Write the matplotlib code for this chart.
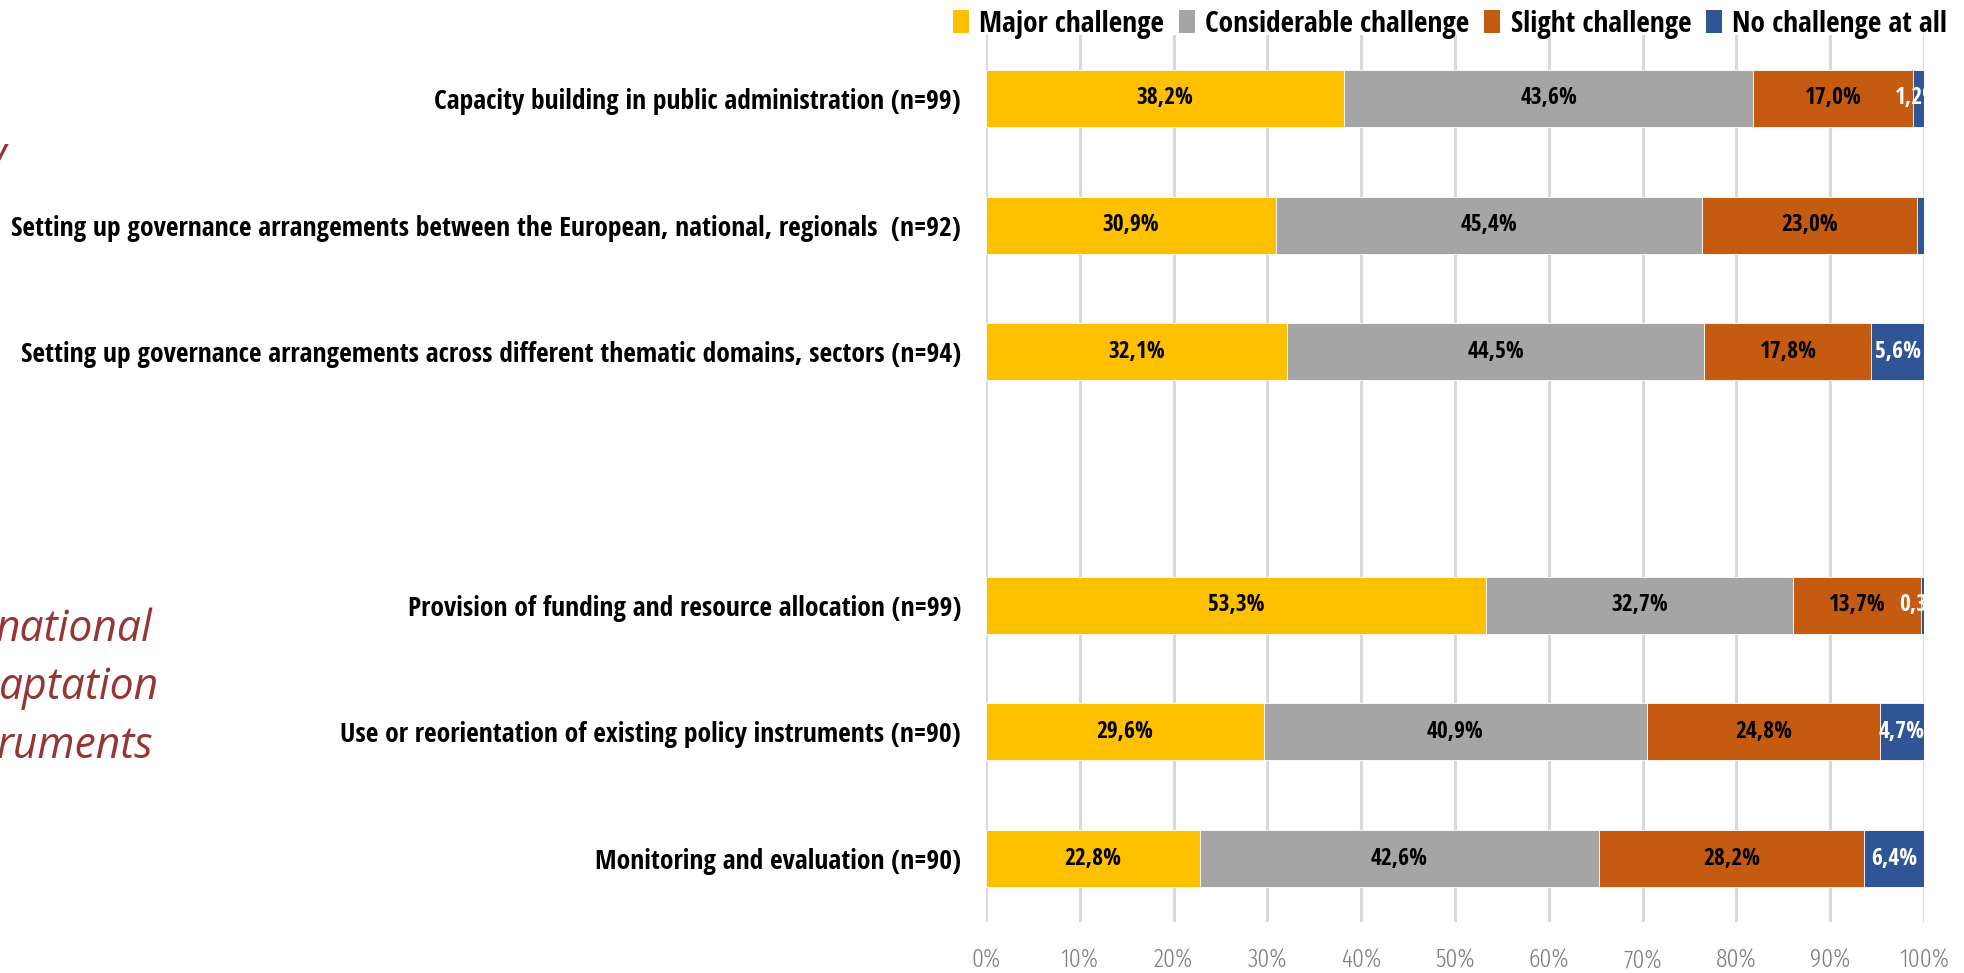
import matplotlib
matplotlib.use("Agg")
import matplotlib.pyplot as plt
from matplotlib.patches import Patch
import numpy as np

categories = [
    "Capacity building in public administration (n=99)",
    "Setting up governance arrangements between the European, national, regionals  (n=92)",
    "Setting up governance arrangements across different thematic domains, sectors (n=94)",
    "",
    "Provision of funding and resource allocation (n=99)",
    "Use or reorientation of existing policy instruments (n=90)",
    "Monitoring and evaluation (n=90)",
]
series = ["Major challenge", "Considerable challenge", "Slight challenge", "No challenge at all"]
major = [38.2, 30.9, 32.1, 0, 53.3, 29.6, 22.8]
considerable = [43.6, 45.4, 44.5, 0, 32.7, 40.9, 42.6]
slight = [17.0, 23.0, 17.8, 0, 13.7, 24.8, 28.2]
no_challenge = [1.2, 0.7, 5.6, 0, 0.3, 4.7, 6.4]
show_label = [True, False, True, False, True, True, True]  # blue series labels
colors = ["#FFC000", "#A5A5A5", "#C55A11", "#2F5597"]
text_colors = ["black", "black", "black", "white"]

cond = ["Open Sans Condensed", "Roboto Condensed", "DejaVu Sans"]
thin = ["Fira Sans Extra Condensed", "Roboto Condensed", "DejaVu Sans"]
red = "#943634"

fig = plt.figure(figsize=(19.64, 9.73), dpi=100)
renderer = fig.canvas.get_renderer()


def fit_size(text, target_px, **kw):
    # font size that makes `text` about target_px wide
    t = fig.text(0, 0, text, fontsize=20, **kw)
    w = t.get_window_extent(renderer).width
    t.remove()
    return 20 * target_px / w


lab_size = fit_size(categories[1], 948, family=cond, fontweight="bold")
bar_size = fit_size("38,2%", 57, family=cond, fontweight="bold")
tick_size = fit_size("100%", 50, family=thin, fontweight=300)
leg_size = fit_size(series[1], 264, family=cond, fontweight="bold")

ax = fig.add_axes([0.5020, 0.0524, 0.4776, 0.9116])

y = np.arange(len(categories))
left = np.zeros(len(categories))
for k, vals in enumerate([major, considerable, slight, no_challenge]):
    vals = np.array(vals)
    nz = vals > 0
    ax.barh(y[nz], vals[nz], left=left[nz], height=0.45, color=colors[k],
            edgecolor="white", linewidth=0.6, zorder=3)
    for i, v in enumerate(vals):
        if v == 0 or (k == 3 and not show_label[i]):
            continue
        t = ax.text(left[i] + v / 2, y[i], f"{v:.1f}%".replace(".", ","),
                    ha="center", va="center", color=text_colors[k],
                    fontsize=bar_size, fontweight="bold", family=cond, zorder=4)
        t.set_clip_on(True)
    left += vals

ax.set_xlim(0, 100)
ax.set_ylim(len(categories) - 0.5, -0.5)
ax.set_xticks(np.arange(0, 101, 10))
ax.set_xticklabels([f"{v}%" for v in range(0, 101, 10)], family=thin,
                   fontsize=tick_size, fontweight=300, color="#7F7F7F")
ax.tick_params(axis="x", length=0, pad=19)
ax.set_yticks(y)
ax.set_yticklabels(categories, family=cond, fontsize=lab_size, fontweight="bold")
ax.tick_params(axis="y", length=0, pad=18)
ax.grid(axis="x", color="#D9D9D9", linewidth=2.2, zorder=0)
for s in ax.spines.values():
    s.set_visible(False)

handles = [Patch(facecolor=c, edgecolor="none") for c in colors]
fig.legend(handles, series, loc="upper right", bbox_to_anchor=(1.005, 1.017),
           ncol=4, frameon=False, handlelength=0.55, handleheight=0.8,
           handletextpad=0.35, columnspacing=0.5,
           prop={"family": cond, "size": leg_size, "weight": "bold"})

# cut-off slide text on the left
side = ["Open Sans", "DejaVu Sans"]
side_size = fit_size("aptation", 160, family=side, style="italic")
fig.text(6 / 1964, 1 - 168 / 973, "y", color=red, fontsize=side_size,
         style="italic", family=side, ha="right", va="baseline")
for word, xr, yb in [("national", 153, 641), ("aptation", 159, 699), ("ruments", 153, 758)]:
    fig.text(xr / 1964, 1 - yb / 973, word, color=red, fontsize=side_size,
             style="italic", family=side, ha="right", va="baseline")

fig.savefig("out.png", dpi=100)
